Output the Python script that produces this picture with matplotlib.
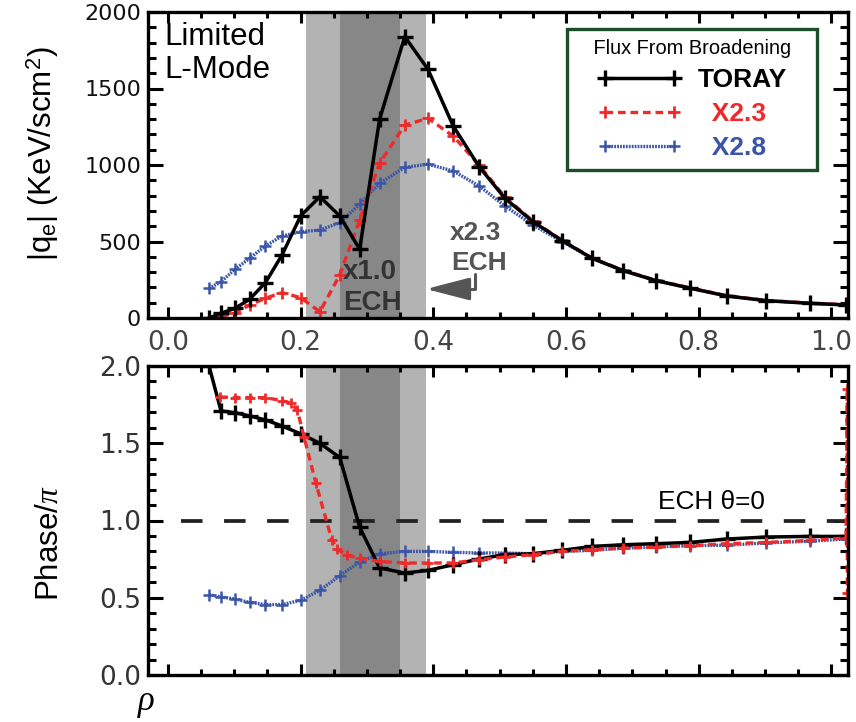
import matplotlib
matplotlib.use('Agg')
import matplotlib.pyplot as plt
from matplotlib import font_manager
from matplotlib.ticker import MultipleLocator, FixedLocator

names = {f.name for f in font_manager.fontManager.ttflist}
NARROW = 'Liberation Sans Narrow' if 'Liberation Sans Narrow' in names else 'Liberation Sans'
SANS = 'Liberation Sans'
SHRINK = 1.0 if NARROW != SANS else 0.9

plt.rcParams['lines.scale_dashes'] = False
plt.rcParams['mathtext.fontset'] = 'custom'
plt.rcParams['mathtext.rm'] = NARROW
plt.rcParams['mathtext.it'] = 'Liberation Serif:italic'
plt.rcParams['mathtext.bf'] = 'Liberation Sans:bold'

# ---------------- data ----------------
rho = [0.062, 0.080, 0.101, 0.123, 0.147, 0.172, 0.200, 0.229, 0.259, 0.289,
       0.319, 0.357, 0.392, 0.430, 0.469, 0.508, 0.550, 0.594, 0.639, 0.686,
       0.735, 0.787, 0.842, 0.902, 0.967, 1.022]

toray_flux = [0, 31, 63, 122, 231, 412, 667, 793, 667, 449,
              1299, 1839, 1625, 1255, 989, 782, 630, 506, 391, 310,
              245, 195, 144, 113, 96, 85]
x23_flux = [0, 13, 31, 85, 129, 166, 133, 41, 281, 641,
            1011, 1261, 1305, 1189, 1000, 790, 635, 508, 393, 312,
            247, 197, 146, 115, 98, 87]
x28_flux = [194, 237, 318, 390, 471, 536, 564, 575, 623, 745,
            880, 985, 1005, 961, 863, 732, 608, 500, 390, 310,
            245, 195, 145, 114, 97, 86]

toray_phase = [2.00, 1.709, 1.698, 1.677, 1.651, 1.612, 1.561, 1.500, 1.408, 0.957,
               0.693, 0.660, 0.677, 0.714, 0.751, 0.779, 0.785, 0.807, 0.832, 0.843,
               0.850, 0.858, 0.880, 0.893, 0.897, 0.897]
x28_phase = [0.520, 0.505, 0.492, 0.470, 0.456, 0.456, 0.483, 0.548, 0.643, 0.731,
             0.785, 0.800, 0.800, 0.794, 0.790, 0.790, 0.785, 0.800, 0.807, 0.820,
             0.830, 0.837, 0.840, 0.855, 0.866, 0.880]
rho_x23_phase = [0.079, 0.101, 0.123, 0.147, 0.172, 0.185, 0.195, 0.205, 0.223, 0.247,
                 0.255, 0.270, 0.289, 0.319, 0.357, 0.392, 0.430, 0.469, 0.508, 0.550,
                 0.594, 0.639, 0.686, 0.735, 0.787, 0.842, 0.902, 0.967, 1.022, 1.024,
                 1.024]
x23_phase = [1.800, 1.795, 1.795, 1.795, 1.776, 1.760, 1.716, 1.543, 1.242, 0.876,
             0.815, 0.775, 0.757, 0.735, 0.725, 0.725, 0.725, 0.746, 0.764, 0.779,
             0.800, 0.811, 0.822, 0.828, 0.837, 0.850, 0.858, 0.871, 0.887, 1.850,
             0.530]

ech_outer = (0.208, 0.389)
ech_inner = (0.259, 0.350)
ech_phase_ref = 1.0

x_ticks = [0.0, 0.2, 0.4, 0.6, 0.8, 1.0]
x_tick_labels = ['0.0', '0.2', '0.4', '0.6', '0.8', '1.0']
flux_ticks = [0, 500, 1000, 1500, 2000]
flux_tick_labels = ['0', '500', '1000', '1500', '2000']
phase_ticks = [0.0, 0.5, 1.0, 1.5, 2.0]
phase_tick_labels = ['0.0', '0.5', '1.0', '1.5', '2.0']
series_names = ['TORAY', 'X2.3', 'X2.8']

# ---------------- style ----------------
BLACK = '#000000'
RED = '#ee2a2a'
BLUE = '#3a55a8'
LIGHT = '#b3b3b3'
DARK = '#878787'
W, H = 856, 722

def fx(px):
    return px / W

def fy(py):
    return 1 - py / H

fig = plt.figure(figsize=(W / 100, H / 100), dpi=100)
ax1 = fig.add_axes([fx(148), fy(318), (848 - 148) / W, (318 - 12) / H])
ax2 = fig.add_axes([fx(148), fy(675), (848 - 148) / W, (675 - 366) / H])

for ax in (ax1, ax2):
    ax.set_xlim(-0.03, 1.025)
    ax.axvspan(*ech_outer, color=LIGHT, lw=0, zorder=0)
    ax.axvspan(*ech_inner, color=DARK, lw=0, zorder=0.5)
    for s in ax.spines.values():
        s.set_linewidth(2.4)
        s.set_zorder(10)
    ax.xaxis.set_major_locator(FixedLocator(x_ticks))
    ax.xaxis.set_minor_locator(MultipleLocator(0.05))
    ax.tick_params(which='both', direction='in', top=True, right=True, width=2.2)
    ax.tick_params(axis='x', which='major', length=8)
    ax.tick_params(axis='x', which='minor', length=4)
    ax.tick_params(axis='y', which='major', length=11)
    ax.tick_params(axis='y', which='minor', length=6)

red_dash = (5.5, 3.5)
blue_dash = (1.3, 0.8)

# ---- top panel
ax1.set_ylim(0, 2000)
lb, = ax1.plot(rho, x28_flux, color=BLUE, lw=2.4, dashes=blue_dash, marker='+', ms=8, mew=1.8, zorder=3)
lr, = ax1.plot(rho, x23_flux, color=RED, lw=2.4, dashes=red_dash, marker='+', ms=8, mew=2.0, zorder=4)
lk, = ax1.plot(rho, toray_flux, color=BLACK, lw=2.5, marker='+', ms=12, mew=2.4, zorder=5)
ax1.set_xticklabels(x_tick_labels)
ax1.yaxis.set_major_locator(FixedLocator(flux_ticks))
ax1.set_yticklabels(flux_tick_labels)
ax1.yaxis.set_minor_locator(MultipleLocator(100))
ax1.tick_params(axis='x', which='major', labelsize=19, labelcolor='#444444', pad=9)
ax1.tick_params(axis='y', which='major', labelsize=16, labelcolor='#111111', pad=5)
for t in ax1.get_xticklabels() + ax1.get_yticklabels():
    t.set_fontfamily('DejaVu Sans')

leg = ax1.legend(handles=[lk, lr, lb],
                 labels=[series_names[0], '  ' + series_names[1], '  ' + series_names[2]],
                 title='   Flux From Broadening   ', loc='upper right',
                 bbox_to_anchor=(0.956, 0.944), borderaxespad=0, frameon=True,
                 fancybox=False, framealpha=1, edgecolor='#1d4d2b', numpoints=2,
                 handlelength=3.2, handletextpad=0.6, labelspacing=0.38, borderpad=0.38,
                 prop={'family': SANS, 'weight': 'bold', 'size': 19},
                 title_fontproperties={'family': NARROW, 'size': 16 * SHRINK})
leg.get_frame().set_linewidth(2.4)
leg.set_zorder(12)
for t, c in zip(leg.get_texts(), [BLACK, RED, BLUE]):
    t.set_color(c)

fig.text(fx(164), fy(22), 'Limited\nL-Mode', family=NARROW, size=25 * SHRINK, va='top', ha='left',
         linespacing=1.15)
fig.text(fx(343), fy(272), 'x1.0', family=SANS, weight='bold', size=20, color='#333333',
         va='center', ha='left')
fig.text(fx(343), fy(303), 'ECH', family=SANS, weight='bold', size=20, color='#333333',
         va='center', ha='left')
fig.text(fx(450), fy(233), 'x2.3', family=SANS, weight='bold', size=19, color='#555555',
         va='center', ha='left')
fig.text(fx(451), fy(263), 'ECH', family=SANS, weight='bold', size=19, color='#555555',
         va='center', ha='left')
ax1.annotate('', xy=(fx(426), fy(289)), xycoords='figure fraction',
             xytext=(fx(475), fy(274)), textcoords='figure fraction',
             arrowprops=dict(arrowstyle='-|>,head_length=2.7,head_width=0.7',
                             connectionstyle='angle,angleA=90,angleB=0,rad=0',
                             color='#555555', lw=2.2, shrinkA=0, shrinkB=0,
                             mutation_scale=10))

# ---- bottom panel
ax2.set_ylim(0, 2.0)
ax2.hlines(ech_phase_ref, 0.02, 1.025, colors='#222222', lw=2.7,
           linestyles=(0, (15.5, 15.5)), zorder=2)
ax2.plot(rho, x28_phase, color=BLUE, lw=2.4, dashes=blue_dash, marker='+', ms=8, mew=1.8, zorder=3)
ax2.plot(rho, toray_phase, color=BLACK, lw=2.5, marker='+', ms=12, mew=2.4, zorder=4)
ax2.plot(rho_x23_phase, x23_phase, color=RED, lw=2.4, dashes=red_dash, marker='+', ms=7,
         mew=2.0, zorder=5)
ax2.yaxis.set_major_locator(FixedLocator(phase_ticks))
ax2.set_yticklabels(phase_tick_labels)
ax2.yaxis.set_minor_locator(MultipleLocator(0.1))
ax2.tick_params(axis='x', labelbottom=False)
ax2.tick_params(axis='y', which='major', labelsize=19, labelcolor='#333333', pad=5)
for t in ax2.get_yticklabels():
    t.set_fontfamily('DejaVu Sans')
fig.text(fx(658), fy(502), 'ECH \u03b8=0', family=[NARROW, 'DejaVu Sans'], size=21 * SHRINK,
         va='center', ha='left')

# ---- axis labels
fig.text(fx(43), fy(154), r'|q$_{\mathrm{e}}$| (KeV/scm$^{2}$)', family=NARROW, size=25 * SHRINK,
         rotation=90, ha='center', va='center')
fig.text(fx(50), fy(543), r'Phase/$\pi$', family=NARROW, size=25 * SHRINK,
         rotation=90, ha='center', va='center')
fig.text(fx(146), fy(703), r'$\rho$', size=25, ha='center', va='center')

fig.savefig('out.png', dpi=100)
